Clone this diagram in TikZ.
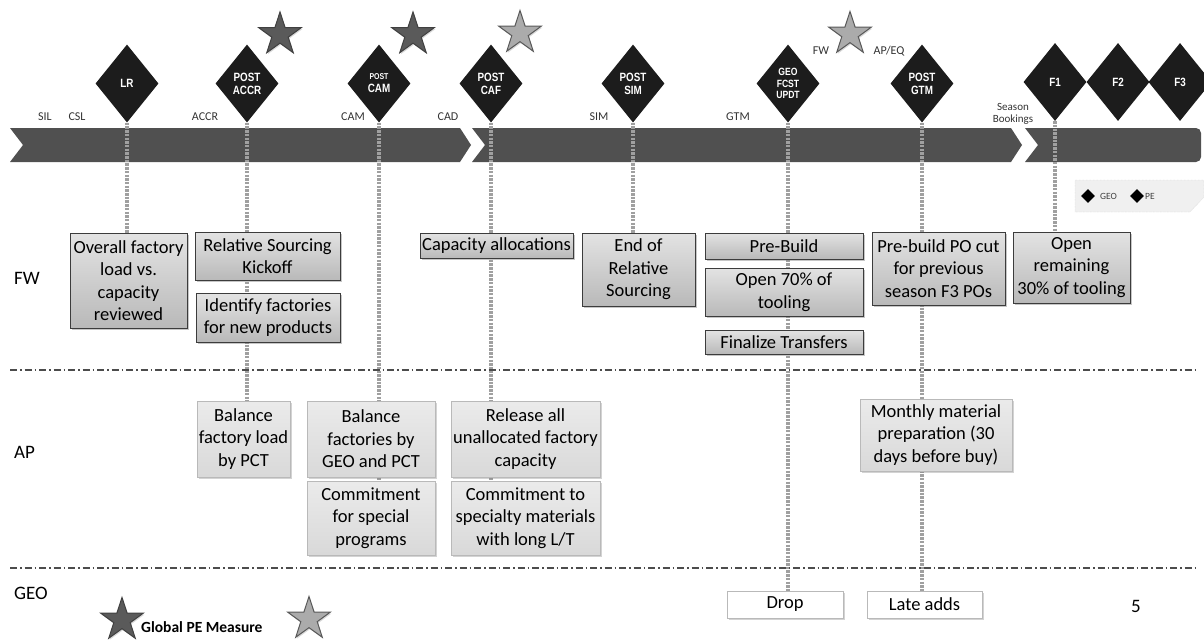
\documentclass[tikz,border=0pt]{standalone}
\usepackage{fontspec}
\setmainfont{Carlito}
\newfontfamily\diafont{Liberation Sans}[FakeStretch=0.82]
\usetikzlibrary{shapes.geometric,shadows}

\pgfdeclarelayer{bandlayer}
\pgfdeclarelayer{guidelayer}
\pgfsetlayers{bandlayer,guidelayer,main}

\definecolor{bandgray}{HTML}{505050}
\definecolor{diafill}{HTML}{1C1C1C}
\definecolor{stardark}{HTML}{5A5A5A}
\definecolor{starlight}{HTML}{ABABAB}
\definecolor{guidegray}{HTML}{A0A0A0}
\definecolor{boxedge}{HTML}{3C3C3C}

\tikzset{
  mile/.style={diamond, fill=diafill, minimum width=63, minimum height=78,
    inner sep=0pt, text=white, align=center,
    font=\diafont\bfseries\fontsize{12}{13}\selectfont},
  boxtext/.style={align=center, inner sep=0pt,
    font=\fontsize{18.5}{22.5}\selectfont},
  fwbox/.style={boxtext, draw=boxedge, line width=0.9pt,
    top color=gray!22, bottom color=gray!55,
    drop shadow={opacity=0.45, shadow xshift=1.5pt, shadow yshift=-2pt}},
  apbox/.style={boxtext, draw=gray!55, line width=0.8pt,
    top color=gray!16, bottom color=gray!30,
    drop shadow={opacity=0.35, shadow xshift=1.5pt, shadow yshift=-2pt}},
  geobox/.style={boxtext, draw=gray!55, line width=0.8pt, fill=white,
    drop shadow={opacity=0.35, shadow xshift=1.5pt, shadow yshift=-2pt}},
  guide/.style={draw=guidegray, line width=3.5pt, dash pattern=on 2.5pt off 1.2pt},
  lanesep/.style={draw=gray!60!black, line width=1.1pt,
    dash pattern=on 7pt off 3pt on 1.5pt off 3pt},
  lanelbl/.style={anchor=west, inner sep=0pt, font=\fontsize{19}{22}\selectfont},
  bandlbl/.style={inner sep=0pt, text=black!80, font=\fontsize{12}{13}\selectfont},
  pestar/.style={star, star points=5, star point ratio=2.6, minimum size=45,
    inner sep=0pt, fill=stardark, draw=black!75, line width=1pt,
    drop shadow={opacity=0.3, shadow xshift=1pt, shadow yshift=-1.5pt}},
  eqstar/.style={pestar, fill=starlight, draw=black!65},
  keydia/.style={diamond, fill=black, minimum width=14, minimum height=14, inner sep=0pt},
  keytext/.style={inner sep=0pt, anchor=west, text=black!75, font=\fontsize{9.5}{10}\selectfont},
}

\begin{document}
\begin{tikzpicture}[x=1pt, y=-1pt]
\useasboundingbox (0,0) rectangle (1204,641);

% timeline band in three chevron segments
\begin{pgfonlayer}{bandlayer}
\fill[bandgray] (10,128) -- (460,128) -- (471,145) -- (460,162) -- (10,162) -- (23,145) -- cycle;
\fill[bandgray] (472,128) -- (1011,128) -- (1022,145) -- (1011,162) -- (472,162) -- (485,145) -- cycle;
\fill[bandgray] (1025,128) {[rounded corners=5pt] -- (1201,128) -- (1201,162)} -- (1025,162) -- (1038,145) -- cycle;
\end{pgfonlayer}

% labels above the band
\node[bandlbl] (tSIL) at (45,117) {SIL};
\node[bandlbl] (tCSL) at (77,117) {CSL};
\node[bandlbl] (tACCR) at (205,117) {ACCR};
\node[bandlbl] (tCAM) at (353,117) {CAM};
\node[bandlbl] (tCAD) at (448,117) {CAD};
\node[bandlbl] (tSIM) at (599,117) {SIM};
\node[bandlbl] (tGTM) at (738,117) {GTM};
\node[bandlbl, align=center, font=\fontsize{11}{12.5}\selectfont] (tSB) at (1013,114) {Season\\Bookings};

% milestones
\node[mile] (dLR) at (127,83.5) {LR};
\node[mile] (dACCR) at (247,83.5) {POST\\ACCR};
\node[mile] (dCAM) at (379,83.5) {{\fontsize{8.5}{9.5}\selectfont POST}\\CAM};
\node[mile] (dCAF) at (491,83.5) {POST\\CAF};
\node[mile] (dSIM) at (633,83.5) {POST\\SIM};
\node[mile, font=\diafont\bfseries\fontsize{10.5}{11.5}\selectfont] (dGEO) at (788,83.5) {GEO\\FCST\\UPDT};
\node[mile] (dGTM) at (922,83.5) {POST\\GTM};
\node[mile] (dF1) at (1055,82) {F1};
\node[mile] (dF2) at (1118,82) {F2};
\node[mile] (dF3) at (1180,82) {F3};

% stars
\node[pestar] (s1) at (280,34.5) {};
\node[pestar] (s2) at (413,34.5) {};
\node[eqstar] (s3) at (520,33) {};
\node[eqstar] (s4) at (850,34) {};
\node[bandlbl] (sFW) at (821,51) {FW};
\node[bandlbl] (sAP) at (889,51) {AP/EQ};

% lane separators
\coordinate (sepAL) at (10,370);
\coordinate (sepAR) at (1197,370);
\coordinate (sepBL) at (10,568);
\coordinate (sepBR) at (1197,568);
\draw[lanesep] (sepAL) -- (sepAR);
\draw[lanesep] (sepBL) -- (sepBR);

% lane names
\node[lanelbl] (lFW) at (14,278) {FW};
\node[lanelbl] (lAP) at (14,452) {AP};
\node[lanelbl] (lGEO) at (14,593) {GEO};

% activity boxes
\path
  (128.5,280.5) node[fwbox, minimum width=117, minimum height=95] (fw1) {Overall factory\\load vs.\\capacity\\reviewed}
  (267.5,256) node[fwbox, minimum width=145, minimum height=48] (fw2) {Relative Sourcing\\Kickoff}
  (268,317.5) node[fwbox, minimum width=144, minimum height=49] (fw3) {Identify factories\\for new products}
  (496.5,245.5) node[fwbox, minimum width=153, minimum height=25] (fw4) {Capacity allocations}
  (638.5,269.5) node[fwbox, minimum width=113, minimum height=73] (fw5) {End of\\Relative\\Sourcing}
  (784,246) node[fwbox, minimum width=158, minimum height=26] (fw6) {Pre-Build}
  (784,292) node[fwbox, minimum width=158, minimum height=48] (fw7) {Open 70\% of\\tooling}
  (784,342) node[fwbox, minimum width=158, minimum height=24] (fw8) {Finalize Transfers}
  (938.5,268.5) node[fwbox, minimum width=133, minimum height=73] (fw9) {Pre-build PO cut\\for previous\\season F3 POs}
  (1071.5,267.5) node[fwbox, minimum width=117, minimum height=71] (fw10) {Open\\remaining\\30\% of tooling}
  (243.5,439) node[apbox, minimum width=93, minimum height=76] (ap1) {Balance\\factory load\\by PCT}
  (371,439) node[apbox, minimum width=128, minimum height=76] (ap2) {Balance\\factories by\\GEO and PCT}
  (371,518) node[apbox, minimum width=128, minimum height=74] (ap3) {Commitment\\for special\\programs}
  (525.5,439) node[apbox, minimum width=149, minimum height=76] (ap4) {Release all\\unallocated factory\\capacity}
  (525.5,518) node[apbox, minimum width=149, minimum height=74] (ap5) {Commitment to\\specialty materials\\with long L/T}
  (936,435) node[apbox, minimum width=152, minimum height=72] (ap6) {Monthly material\\preparation (30\\days before buy)}
  (785,604.5) node[geobox, minimum width=116, minimum height=27] (geo1) {Drop}
  (924.5,604.5) node[geobox, minimum width=115, minimum height=27] (geo2) {Late adds};

% milestone guides: over the band, under the boxes
\begin{pgfonlayer}{guidelayer}
\draw[guide] (dLR.south) -- (dLR.south |- fw1.north);
\draw[guide] (dACCR.south) -- (dACCR.south |- ap1.north);
\draw[guide] (dCAM.south) -- (dCAM.south |- ap3.north);
\draw[guide] (dCAF.south) -- (dCAF.south |- ap5.north);
\draw[guide] (dSIM.south) -- (dSIM.south |- fw5.north);
\draw[guide] (dGEO.south) -- (dGEO.south |- geo1.north);
\draw[guide] (dGTM.south) -- (dGTM.south |- geo2.north);
\draw[guide] (dF1.south) -- (dF1.south |- fw10.north);
\end{pgfonlayer}

% key for the milestone markers
\path[fill=gray!12, draw=gray!50, densely dotted]
  (1075,180) -- (1204,180) -- (1204,197) -- (1190,212) -- (1075,212) -- cycle;
\node[keydia] (kGEO) at (1088,196) {};
\node[keytext] (kGEOt) at (1100,196) {GEO};
\node[keydia] (kPE) at (1137,196) {};
\node[keytext] (kPEt) at (1145,196) {PE};

% star key
\node[pestar] (gs1) at (122,620) {};
\node[inner sep=0pt, anchor=west, font=\bfseries\fontsize{15.5}{17}\selectfont] (gst) at (141,627) {Global PE Measure};
\node[eqstar] (gs2) at (309,619) {};

% page number
\node[inner sep=0pt, font=\fontsize{19}{22}\selectfont] (pgnum) at (1136,606) {5};
\end{tikzpicture}
\end{document}
